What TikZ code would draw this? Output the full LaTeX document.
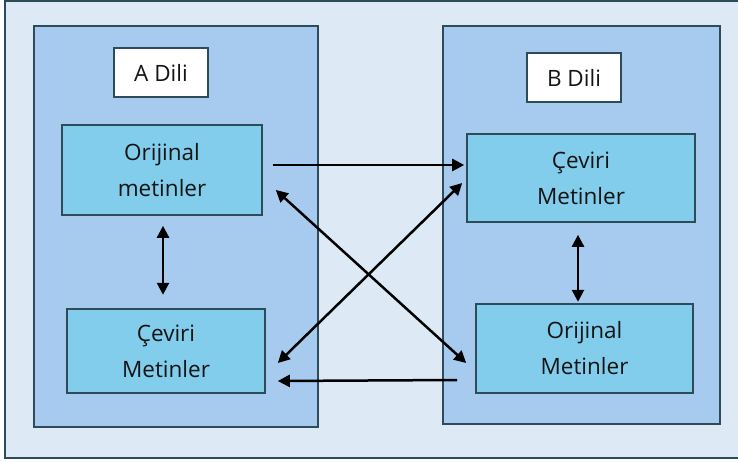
\documentclass[tikz,border=0pt]{standalone}
\usepackage{fontspec}
\setmainfont{Open Sans}
\usetikzlibrary{calc,arrows.meta}
\definecolor{outerbg}{HTML}{DDEAF6}
\definecolor{panelbg}{HTML}{A7CBEE}
\definecolor{boxbg}{HTML}{81CDEB}
\definecolor{edge}{HTML}{2E4B5A}
\definecolor{txt}{HTML}{141414}
\tikzset{
  panel/.style={draw=edge,line width=1.6pt,fill=panelbg},
  textbox/.style={draw=edge,line width=1.6pt,fill=boxbg,inner sep=0pt,align=center,
    font=\fontsize{22.5}{36}\selectfont,text=txt},
  labelbox/.style={draw=edge,line width=1.2pt,fill=white,inner sep=0pt,
    font=\fontsize{22.5}{26}\selectfont,text=txt},
  arr/.style={line width=2.5pt,-{Triangle[length=12pt,width=12pt]}},
  darr/.style={line width=2.5pt,{Triangle[length=12pt,width=12pt]}-{Triangle[length=12pt,width=12pt]}}
}
\begin{document}
\begin{tikzpicture}[x=1pt,y=-1pt]
\useasboundingbox (0,0) rectangle (738,462);
\clip (0,0) rectangle (738,462);
\draw[draw=edge,line width=1.6pt,fill=outerbg] (5,1) rectangle (760,458);
% panels
\draw[panel] (34,26) rectangle (318,427);
\draw[panel] (443,26) rectangle (720,424);
% labels
\node[labelbox,minimum width=94pt,minimum height=49pt] (ALab) at (161,72.5) {A Dili};
\node[labelbox,minimum width=94pt,minimum height=49pt] (BLab) at (574,77.5) {B Dili};
% text boxes
\node[textbox,minimum width=200pt,minimum height=90pt] (LO) at (162,170) {Orijinal\\metinler};
\node[textbox,minimum width=198pt,minimum height=84pt] (LC) at (166,351) {Çeviri\\Metinler};
\node[textbox,minimum width=228pt,minimum height=88pt] (RC) at (581,178) {Çeviri\\Metinler};
\node[textbox,minimum width=217pt,minimum height=89pt] (RO) at (584.5,348.5) {Orijinal\\Metinler};
% arrows
\draw[arr] ($(LO.east)+(10,-5)$) -- ($(RC.west)+(-2,-13)$);
\draw[arr] ($(RO.west)+(-18,31.5)$) -- ($(LC.east)+(12,30)$);
\draw[darr] ($(LC.east)+(12,12)$) -- ($(RC.west)+(-4,5)$);
\draw[darr] ($(LO.east)+(13,20)$) -- ($(RO.west)+(-9,14.5)$);
\draw[darr] ($(LO.south)+(1,10)$) -- ($(LO.south)+(1,79)$);
\draw[darr] ($(RC.south)+(-3,12)$) -- ($(RC.south)+(-3,79)$);
\end{tikzpicture}
\end{document}
